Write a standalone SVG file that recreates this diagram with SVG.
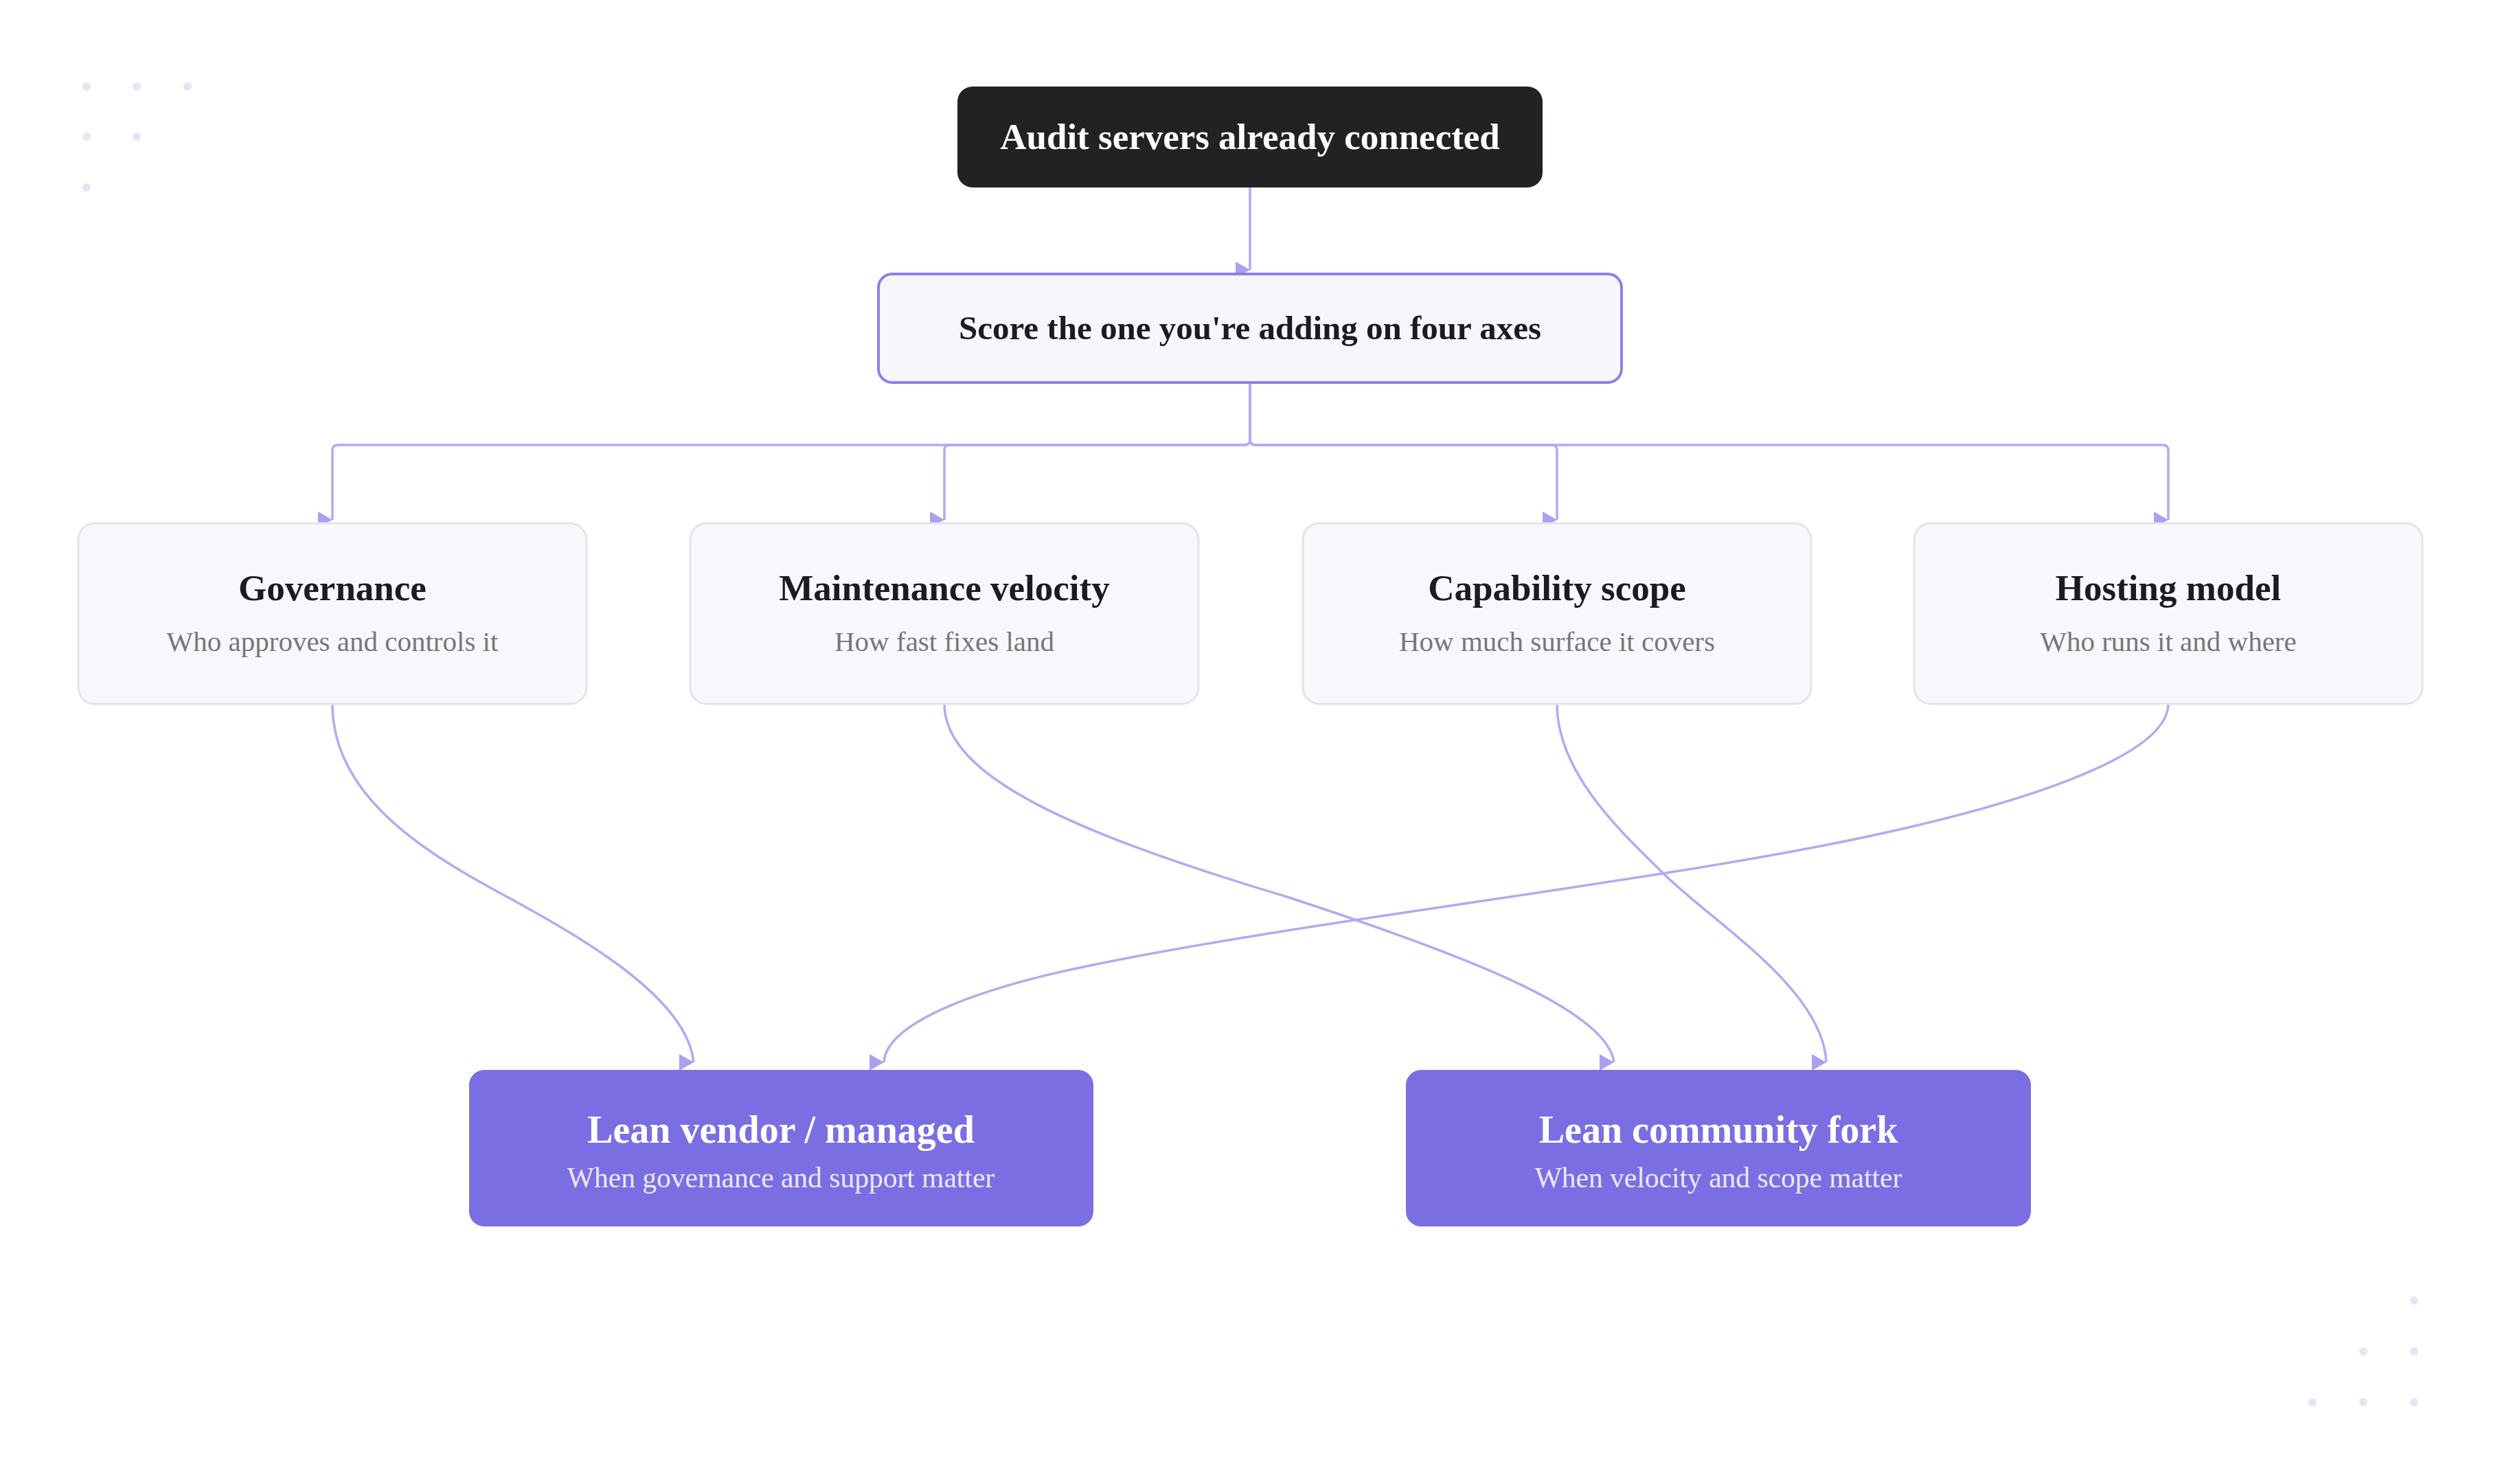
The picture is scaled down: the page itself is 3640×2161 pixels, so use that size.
<svg xmlns="http://www.w3.org/2000/svg" width="3640" height="2161" viewBox="0 0 3640 2161">
<style>
.t{font-family:"Liberation Serif","DejaVu Serif",serif;text-anchor:middle}
.b{font-weight:bold}
.edge{fill:none;stroke:#b3a9f3;stroke-width:3.5}
.card{fill:#f7f8fc;stroke:#e3e3ea;stroke-width:3}
.dot{fill:#e7e4fa}
.ttl{font-size:53px;fill:#1d1b20}
.sub{font-size:41px;fill:#77757c}
.vt{font-size:56px;fill:#ffffff}
.vs{font-size:41.5px;fill:#ebe8ff}
</style>
<defs>
<marker id="ah" markerUnits="userSpaceOnUse" markerWidth="40" markerHeight="40" viewBox="-30 -20 40 40" refX="0" refY="0" orient="0" overflow="visible">
<path d="M-21,-12 L0,0 L-21,12 Z" fill="#ab9ff1"/>
</marker>
</defs>
<rect width="3640" height="2161" fill="#ffffff"/>
<g id="dots">
<circle class="dot" cx="126" cy="126" r="6"/><circle class="dot" cx="199" cy="126" r="6"/><circle class="dot" cx="273" cy="126" r="6"/>
<circle class="dot" cx="126" cy="199" r="6"/><circle class="dot" cx="199" cy="199" r="6"/>
<circle class="dot" cx="126" cy="273" r="6"/>
<circle class="dot" cx="3515" cy="1894" r="6"/>
<circle class="dot" cx="3441" cy="1968" r="6"/><circle class="dot" cx="3515" cy="1968" r="6"/>
<circle class="dot" cx="3367" cy="2042" r="6"/><circle class="dot" cx="3441" cy="2042" r="6"/><circle class="dot" cx="3515" cy="2042" r="6"/>
</g>
<g id="connectors">
<path class="edge" d="M1820,273 V393" marker-end="url(#ah)"/>
<path class="edge" d="M1820,557 V640 Q1820,648 1812,648 H492 Q484,648 484,656 V757" marker-end="url(#ah)"/>
<path class="edge" d="M1820,557 V640 Q1820,648 1812,648 H1383 Q1375,648 1375,656 V757" marker-end="url(#ah)"/>
<path class="edge" d="M1820,557 V640 Q1820,648 1828,648 H2259 Q2267,648 2267,656 V757" marker-end="url(#ah)"/>
<path class="edge" d="M1820,557 V640 Q1820,648 1828,648 H3149 Q3157,648 3157,656 V757" marker-end="url(#ah)"/>
<path class="edge" d="M484,1025 C484,1150 600,1231 720,1296 C840,1361 1000,1450 1010,1547" marker-end="url(#ah)"/>
<path class="edge" d="M1375,1025 C1375,1130 1560,1212 1874,1306 C2130,1390 2340,1470 2350,1547" marker-end="url(#ah)"/>
<path class="edge" d="M2267,1025 C2267,1130 2370,1220 2423,1273 C2490,1340 2655,1440 2659,1547" marker-end="url(#ah)"/>
<path class="edge" d="M3157,1025 C3157,1100 2946,1175 2646,1233 C2346,1291 1877,1346 1587,1406 C1420,1440 1290,1490 1287,1547" marker-end="url(#ah)"/>
</g>
<g id="n-audit">
<rect x="1394" y="126" width="852" height="147" rx="22" fill="#232124"/>
<text class="t b" x="1820" y="217" font-size="53" fill="#ffffff">Audit servers already connected</text>
</g>
<g id="n-score">
<rect x="1279" y="399" width="1082" height="158" rx="20" fill="#f6f7fc" stroke="#8d7fea" stroke-width="4"/>
<text class="t b" x="1820" y="494" font-size="49" fill="#1d1b20">Score the one you're adding on four axes</text>
</g>
<g id="n-governance">
<rect class="card" x="114" y="762" width="740" height="263" rx="24"/>
<text class="t b ttl" x="484" y="874">Governance</text>
<text class="t sub" x="484" y="948">Who approves and controls it</text>
</g>
<g id="n-maintenance">
<rect class="card" x="1005" y="762" width="740" height="263" rx="24"/>
<text class="t b ttl" x="1375" y="874">Maintenance velocity</text>
<text class="t sub" x="1375" y="948">How fast fixes land</text>
</g>
<g id="n-capability">
<rect class="card" x="1897" y="762" width="740" height="263" rx="24"/>
<text class="t b ttl" x="2267" y="874">Capability scope</text>
<text class="t sub" x="2267" y="948">How much surface it covers</text>
</g>
<g id="n-hosting">
<rect class="card" x="2787" y="762" width="740" height="263" rx="24"/>
<text class="t b ttl" x="3157" y="874">Hosting model</text>
<text class="t sub" x="3157" y="948">Who runs it and where</text>
</g>
<g id="n-vendor">
<rect x="683" y="1558" width="909" height="228" rx="22" fill="#7b6ee3"/>
<text class="t b vt" x="1137" y="1664">Lean vendor / managed</text>
<text class="t vs" x="1137" y="1729">When governance and support matter</text>
</g>
<g id="n-community">
<rect x="2047" y="1558" width="910" height="228" rx="22" fill="#7b6ee3"/>
<text class="t b vt" x="2502" y="1664">Lean community fork</text>
<text class="t vs" x="2502" y="1729">When velocity and scope matter</text>
</g>
</svg>
